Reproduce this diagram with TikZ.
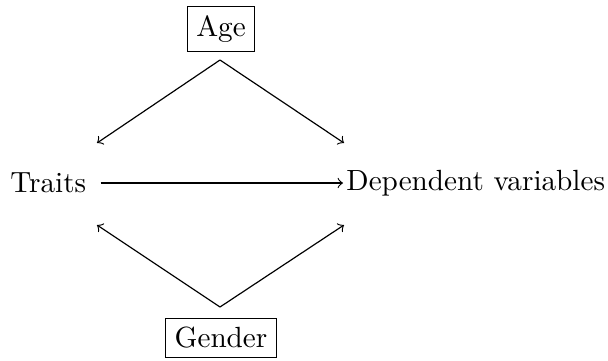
\documentclass[tikz,border=0pt]{standalone}
\usepackage{amsmath}
\usepackage{tikz}
\usetikzlibrary{positioning, arrows.meta, calc}

\begin{document}
\begin{tikzpicture}[
		x=0.01191cm, y=-0.01191cm,
		every node/.style={font=\fontsize{9.9}{12}\selectfont},
		box/.style={draw, rectangle, inner sep=3pt},
		plain/.style={inner sep=3pt},
		>=to
		]
		\useasboundingbox (0,0) rectangle (608,360);

		\node[box] (age) at (221, 29) {Age};
		\node[box] (gender) at (221, 338) {Gender};
		\node[plain, anchor=west] (traits) at (1, 183) {Traits};
		\node[plain, anchor=west] (dep) at (337, 183) {Dependent variables};

		\coordinate (aget) at (220, 60);
		\coordinate (gent) at (220, 307);
		\coordinate (tu) at (97, 143);
		\coordinate (du) at (344, 143);
		\coordinate (tl) at (97, 225);
		\coordinate (dl) at (344, 225);

		\foreach \src/\dst in {aget/tu, aget/du, gent/tl, gent/dl} {
			\draw[->] (\src) to (\dst);
		}
		\draw[->] ($(traits.east)+(5,0)$) to ($(dep.west)+(6,0)$);
\end{tikzpicture}
\end{document}
